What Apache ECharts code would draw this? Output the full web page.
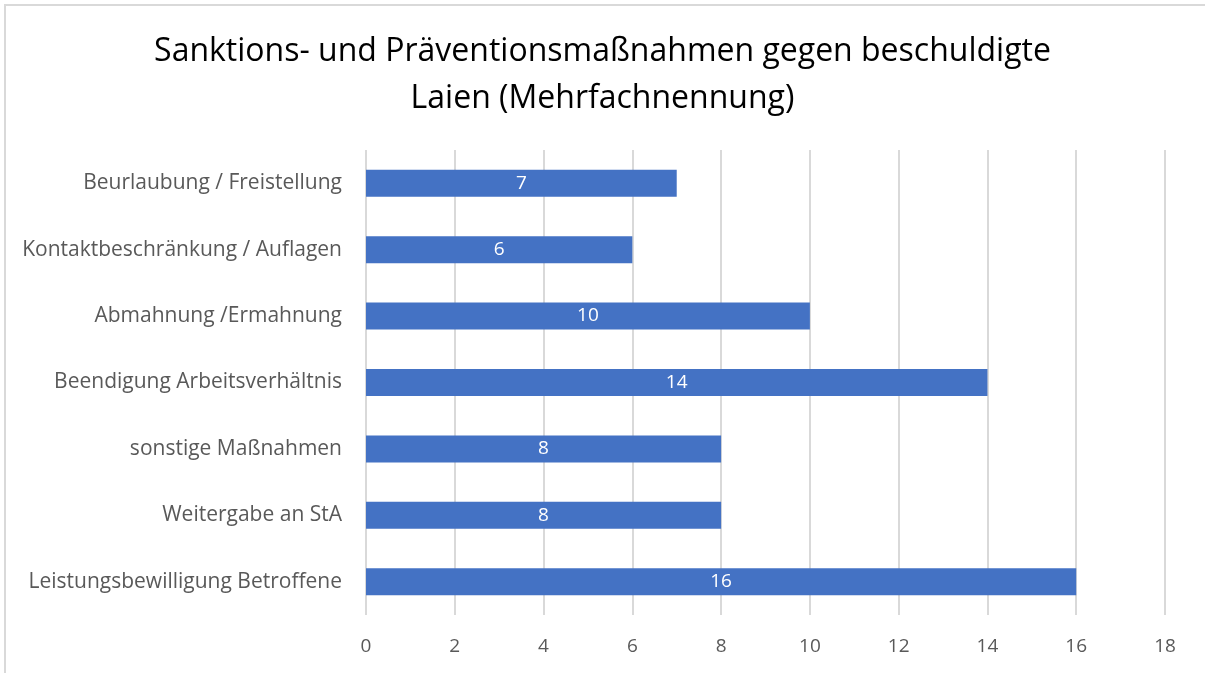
<!DOCTYPE html>
<html>
<head>
<meta charset="utf-8">
<script src="https://cdn.jsdelivr.net/npm/echarts@6/dist/echarts.min.js"></script>
<style>
  html, body { margin: 0; padding: 0; background: #fff; overflow: hidden; }
  #frame { position: absolute; left: 4px; top: 4px; right: 0; bottom: 0; border-top: 2px solid #d9d9d9; border-left: 2px solid #d9d9d9; }
  #main { position: absolute; left: 0; top: 0; width: 1205px; height: 673px; }
</style>
</head>
<body>
<div id="frame"></div>
<div id="main"></div>
<script>
// Kategorien von oben nach unten
var categories = [
    'Beurlaubung / Freistellung',
    'Kontaktbeschränkung / Auflagen',
    'Abmahnung /Ermahnung',
    'Beendigung Arbeitsverhältnis',
    'sonstige Maßnahmen',
    'Weitergabe an StA',
    'Leistungsbewilligung Betroffene'
];
var values = [7, 6, 10, 14, 8, 8, 16];
var xTicks = [0, 2, 4, 6, 8, 10, 12, 14, 16, 18];

var font = '"Open Sans", "Noto Sans", sans-serif';
var myChart = echarts.init(document.getElementById('main'));
var option = {
    animation: false,
    title: {
        text: 'Sanktions- und Präventionsmaßnahmen gegen beschuldigte\nLaien (Mehrfachnennung)',
        left: 'center',
        top: 23,
        textStyle: {
            fontFamily: font,
            fontSize: 32,
            fontWeight: 'normal',
            color: '#000',
            lineHeight: 47
        }
    },
    grid: {
        left: 366,
        right: 40,
        top: 150,
        bottom: 58
    },
    xAxis: {
        type: 'value',
        min: xTicks[0],
        max: xTicks[xTicks.length - 1],
        interval: 2,
        axisLine: { show: false },
        axisTick: { show: false },
        axisLabel: {
            margin: 22,
            fontFamily: font,
            fontSize: 19,
            color: '#595959'
        },
        splitLine: { lineStyle: { color: '#d9d9d9', width: 2 } }
    },
    yAxis: {
        type: 'category',
        inverse: true,
        data: categories,
        axisLine: { show: false },
        axisTick: { show: false },
        axisLabel: {
            margin: 24,
            fontFamily: font,
            fontSize: 21,
            color: '#595959'
        }
    },
    series: [{
        type: 'bar',
        data: values,
        barWidth: 27,
        itemStyle: { color: '#4472C4' },
        label: {
            show: true,
            position: 'inside',
            fontFamily: font,
            fontSize: 19,
            color: '#fff'
        }
    }]
};
myChart.setOption(option);
</script>
</body>
</html>
